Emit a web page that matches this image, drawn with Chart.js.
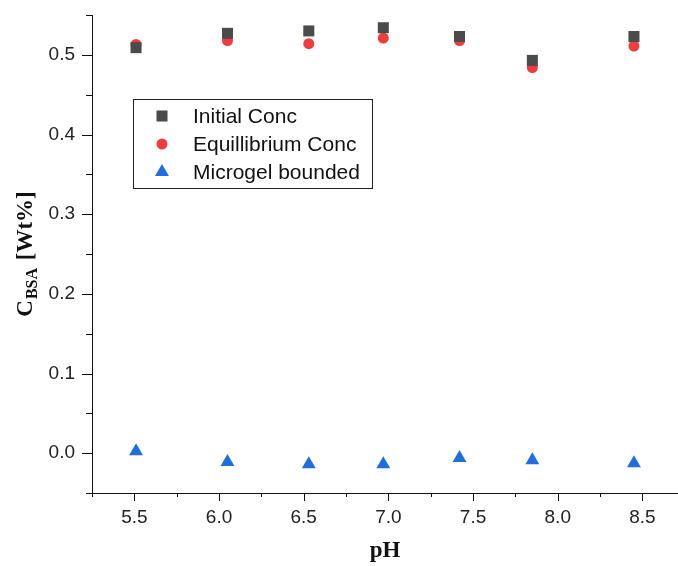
<!DOCTYPE html>
<html>
<head>
<meta charset="utf-8">
<script src="https://cdn.jsdelivr.net/npm/chart.js@4.4.1/dist/chart.umd.min.js"></script>
<style>
body { margin: 0; background: #fff; }
#wrap { width: 678px; height: 566px; }
</style>
</head>
<body>
<div id="wrap"><canvas id="myChart" width="678" height="566"></canvas></div>
<script>
// data
var phValues = [5.51, 6.05, 6.53, 6.97, 7.42, 7.85, 8.45];
var initialConc = [0.509, 0.527, 0.530, 0.534, 0.523, 0.493, 0.523];
var equilConc = [0.513, 0.518, 0.514, 0.521, 0.518, 0.484, 0.511];
var microgelBound = [0.0025, -0.011, -0.014, -0.014, -0.006, -0.009, -0.0125];
var seriesNames = ['Initial Conc', 'Equillibrium Conc', 'Microgel bounded'];
var xTickLabels = ['5.5', '6.0', '6.5', '7.0', '7.5', '8.0', '8.5'];
var yTickLabels = ['0.0', '0.1', '0.2', '0.3', '0.4', '0.5'];

function pairs(ys) {
    return phValues.map(function (x, i) { return { x: x, y: ys[i] }; });
}

function isStep(v, n) {
    return Math.abs(v * n - Math.round(v * n)) < 1e-6;
}

// tick every 1/n between min and max
function stepTicks(scale, n) {
    var out = [];
    for (var k = Math.ceil(scale.min * n - 1e-6); k <= Math.floor(scale.max * n + 1e-6); k++) {
        out.push({ value: k / n });
    }
    scale.ticks = out;
}

// minor/major tick marks, legend box and axis titles
var extras = {
    id: 'extras',
    afterDraw: function (chart) {
        var ctx = chart.ctx;
        var area = chart.chartArea;
        var xs = chart.scales.x, ys = chart.scales.y;
        ctx.save();
        ctx.strokeStyle = '#111';
        ctx.lineWidth = 1;
        ctx.beginPath();
        ys.ticks.forEach(function (t) {
            var len = isStep(t.value, 10) ? 10 : 6;
            var py = Math.round(ys.getPixelForValue(t.value)) + 0.5;
            ctx.moveTo(area.left, py);
            ctx.lineTo(area.left - len, py);
        });
        xs.ticks.forEach(function (t) {
            var len = isStep(t.value, 2) ? 8 : 4;
            var px = Math.round(xs.getPixelForValue(t.value)) + 0.5;
            ctx.moveTo(px, area.bottom);
            ctx.lineTo(px, area.bottom + len);
        });
        ctx.stroke();

        // legend
        ctx.strokeStyle = '#222';
        ctx.strokeRect(133.5, 99.5, 239, 89);
        ctx.font = '21px "Liberation Sans", Arial, sans-serif';
        ctx.textBaseline = 'middle';
        ctx.textAlign = 'left';
        chart.data.datasets.forEach(function (ds, i) {
            var cy = 116 + i * 28;
            var opts = {
                pointStyle: ds.pointStyle,
                radius: ds.pointRadius,
                rotation: 0,
                borderWidth: 0
            };
            ctx.fillStyle = ds.backgroundColor;
            ctx.strokeStyle = ds.backgroundColor;
            Chart.helpers.drawPoint(ctx, opts, 162, cy);
            ctx.fillStyle = '#111';
            ctx.fillText(ds.label, 193, cy + 1);
        });

        // axis titles
        ctx.fillStyle = '#111';
        ctx.textAlign = 'center';
        ctx.textBaseline = 'alphabetic';
        ctx.font = 'bold 23px "Liberation Serif", "Times New Roman", serif';
        ctx.fillText('pH', 385, 557);

        ctx.translate(32, (area.top + area.bottom) / 2);
        ctx.rotate(-Math.PI / 2);
        var big = 'bold 23px "Liberation Serif", "Times New Roman", serif';
        var small = 'bold 16px "Liberation Serif", "Times New Roman", serif';
        ctx.font = big;
        var w1 = ctx.measureText('C').width;
        var w3 = ctx.measureText(' [Wt%]').width;
        ctx.font = small;
        var w2 = ctx.measureText('BSA').width + 3;
        var x0 = -(w1 + w2 + w3) / 2;
        ctx.textAlign = 'left';
        ctx.font = big;
        ctx.fillText('C', x0, 0);
        ctx.font = small;
        ctx.fillText('BSA', x0 + w1 + 1, 5);
        ctx.font = big;
        ctx.fillText(' [Wt%]', x0 + w1 + w2, 0);
        ctx.restore();
    }
};

var ctx = document.getElementById('myChart');

var chartData = {
    type: 'scatter',
    data: {
        datasets: [{
            label: seriesNames[0],
            data: pairs(initialConc),
            pointStyle: 'rect',
            pointRadius: 7.8,
            backgroundColor: '#4b4b4b',
            borderWidth: 0
        }, {
            label: seriesNames[1],
            data: pairs(equilConc),
            pointStyle: 'circle',
            pointRadius: 5.5,
            backgroundColor: '#f03c3c',
            borderWidth: 0
        }, {
            label: seriesNames[2],
            data: pairs(microgelBound),
            pointStyle: 'triangle',
            pointRadius: 8,
            backgroundColor: '#1e6ee0',
            borderWidth: 0
        }]
    },
    options: {
        responsive: false,
        animation: false,
        layout: { autoPadding: false, padding: { top: 15, right: 0, left: 0, bottom: 0 } },
        plugins: { legend: { display: false }, tooltip: { enabled: false } },
        scales: {
            x: {
                type: 'linear',
                min: 5.25,
                max: 8.71,
                grid: { display: false, drawTicks: false, tickLength: 0 },
                border: { display: true, color: '#111', width: 1 },
                afterBuildTicks: function (scale) { stepTicks(scale, 4); },
                ticks: {
                    autoSkip: false,
                    maxRotation: 0,
                    padding: 13,
                    color: '#222',
                    font: { family: '"Liberation Sans", Arial, sans-serif', size: 19 },
                    callback: function (v) {
                        var s = Number(v).toFixed(1);
                        return isStep(v, 2) && xTickLabels.indexOf(s) >= 0 ? s : '';
                    }
                },
                afterFit: function (scale) {
                    scale.height = 73;
                    scale.paddingLeft = 0;
                    scale.paddingRight = 0;
                }
            },
            y: {
                type: 'linear',
                min: -0.05,
                max: 0.55,
                grid: { display: false, drawTicks: false, tickLength: 0 },
                border: { display: true, color: '#111', width: 1 },
                afterBuildTicks: function (scale) { stepTicks(scale, 20); },
                ticks: {
                    autoSkip: false,
                    padding: 17,
                    color: '#222',
                    font: { family: '"Liberation Sans", Arial, sans-serif', size: 19 },
                    callback: function (v) {
                        var s = Number(v).toFixed(1);
                        return isStep(v, 10) && yTickLabels.indexOf(s) >= 0 ? s : '';
                    }
                },
                afterFit: function (scale) {
                    scale.width = 92;
                    scale.paddingTop = 0;
                    scale.paddingBottom = 0;
                }
            }
        }
    },
    plugins: [extras]
};

var myChart = new Chart(ctx, chartData);
</script>
</body>
</html>
